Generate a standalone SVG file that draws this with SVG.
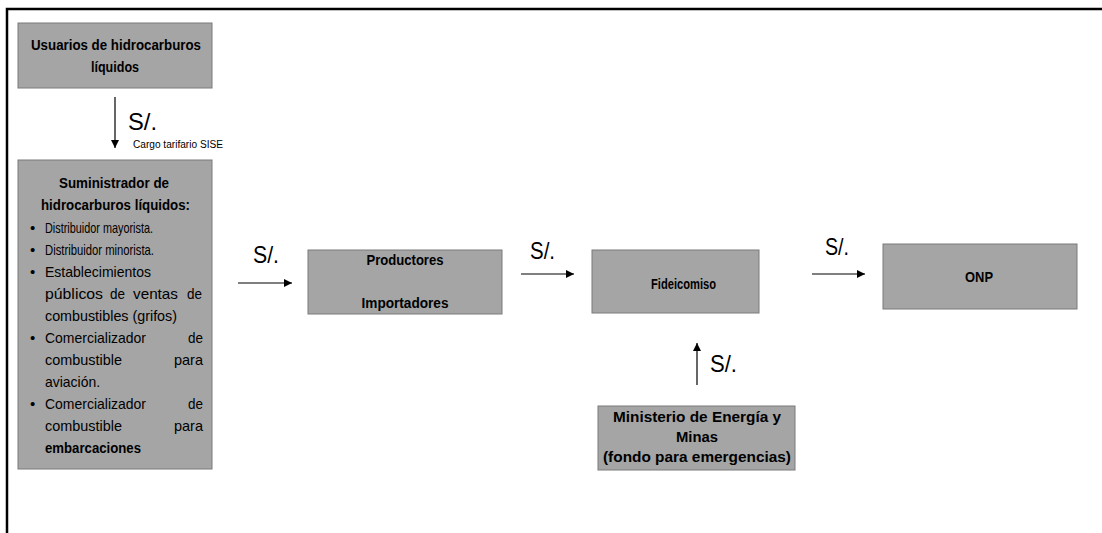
<svg xmlns="http://www.w3.org/2000/svg" width="1102" height="533" viewBox="0 0 1102 533">
<style>
.box{fill:#a5a5a5;stroke:#7a7a7a;stroke-width:1}
text{font-family:"Liberation Sans Narrow","Liberation Sans",Arial,sans-serif;fill:#000}
.b{font-weight:bold;font-size:15px}
.bs{font-weight:bold;font-size:14px}
.n{font-size:15px}
.s{font-size:24px}
.tiny{font-size:10px}
.ln{stroke:#000;stroke-width:1.2;fill:none}
</style>
<defs>
<marker id="ah" viewBox="0 0 10 10" refX="10" refY="5" markerWidth="8" markerHeight="8" markerUnits="userSpaceOnUse" orient="auto">
<path d="M0,0 L10,5 L0,10 z" fill="#000"/>
</marker>
</defs>
<rect width="1102" height="533" fill="#fff"/>
<path d="M7,533 V9 H1102" stroke="#000" stroke-width="2.5" fill="none"/>

<g id="usuarios">
<rect class="box" x="18" y="23" width="194" height="65"/>
<text class="b" x="116" y="50" text-anchor="middle" textLength="170" lengthAdjust="spacingAndGlyphs">Usuarios de hidrocarburos</text>
<text class="b" x="115" y="72" text-anchor="middle" textLength="48" lengthAdjust="spacingAndGlyphs">líquidos</text>
</g>

<g id="suministrador">
<rect class="box" x="18" y="160" width="194" height="309"/>
<text class="b" x="114" y="188" text-anchor="middle" textLength="110" lengthAdjust="spacingAndGlyphs">Suministrador de</text>
<text class="b" x="115.5" y="210" text-anchor="middle" textLength="149" lengthAdjust="spacingAndGlyphs">hidrocarburos líquidos:</text>
<g class="n">
<text x="30" y="233">•</text>
<text x="45" y="233" textLength="108" lengthAdjust="spacingAndGlyphs">Distribuidor mayorista.</text>
<text x="30" y="255">•</text>
<text x="45" y="255" textLength="109" lengthAdjust="spacingAndGlyphs">Distribuidor minorista.</text>
<text x="30" y="277">•</text>
<text x="45" y="277" textLength="106" lengthAdjust="spacingAndGlyphs">Establecimientos</text>
<text x="45" y="299" textLength="58" lengthAdjust="spacingAndGlyphs">públicos</text>
<text x="110" y="299" textLength="15" lengthAdjust="spacingAndGlyphs">de</text>
<text x="133" y="299" textLength="45" lengthAdjust="spacingAndGlyphs">ventas</text>
<text x="187" y="299" textLength="15" lengthAdjust="spacingAndGlyphs">de</text>
<text x="45" y="321" textLength="132" lengthAdjust="spacingAndGlyphs">combustibles (grifos)</text>
<text x="30" y="343">•</text>
<text x="45" y="343" textLength="101" lengthAdjust="spacingAndGlyphs">Comercializador</text>
<text x="188" y="343" textLength="15" lengthAdjust="spacingAndGlyphs">de</text>
<text x="45" y="365" textLength="77" lengthAdjust="spacingAndGlyphs">combustible</text>
<text x="174" y="365" textLength="29" lengthAdjust="spacingAndGlyphs">para</text>
<text x="45" y="387" textLength="55" lengthAdjust="spacingAndGlyphs">aviación.</text>
<text x="30" y="409">•</text>
<text x="45" y="409" textLength="101" lengthAdjust="spacingAndGlyphs">Comercializador</text>
<text x="188" y="409" textLength="15" lengthAdjust="spacingAndGlyphs">de</text>
<text x="45" y="431" textLength="77" lengthAdjust="spacingAndGlyphs">combustible</text>
<text x="174" y="431" textLength="29" lengthAdjust="spacingAndGlyphs">para</text>
</g>
<text class="b" x="45" y="453" textLength="96" lengthAdjust="spacingAndGlyphs">embarcaciones</text>
</g>

<g id="productores">
<rect class="box" x="308" y="250" width="194" height="64"/>
<text class="bs" x="405" y="265" text-anchor="middle" textLength="77" lengthAdjust="spacingAndGlyphs">Productores</text>
<text class="bs" x="405" y="308" text-anchor="middle" textLength="87" lengthAdjust="spacingAndGlyphs">Importadores</text>
</g>

<g id="fideicomiso">
<rect class="box" x="592" y="250" width="167" height="63"/>
<text class="bs" x="683.5" y="289" text-anchor="middle" textLength="65" lengthAdjust="spacingAndGlyphs">Fideicomiso</text>
</g>

<g id="onp">
<rect class="box" x="883" y="244" width="194" height="65"/>
<text class="bs" x="979" y="282" text-anchor="middle" textLength="28" lengthAdjust="spacingAndGlyphs">ONP</text>
</g>

<g id="ministerio">
<rect class="box" x="598" y="406" width="197" height="64"/>
<text class="b" x="697" y="422" text-anchor="middle" textLength="168" lengthAdjust="spacingAndGlyphs">Ministerio de Energía y</text>
<text class="b" x="697" y="442" text-anchor="middle" textLength="42" lengthAdjust="spacingAndGlyphs">Minas</text>
<text class="b" x="697" y="462" text-anchor="middle" textLength="188" lengthAdjust="spacingAndGlyphs">(fondo para emergencias)</text>
</g>

<g id="connectors">
<line class="ln" x1="115" y1="97" x2="115" y2="148" marker-end="url(#ah)"/>
<text class="s" x="128" y="130" textLength="29" lengthAdjust="spacingAndGlyphs">S/.</text>
<text class="tiny" x="133" y="148" textLength="90" lengthAdjust="spacingAndGlyphs">Cargo tarifario SISE</text>

<line class="ln" x1="238" y1="283" x2="292" y2="283" marker-end="url(#ah)"/>
<text class="s" x="253" y="263" textLength="26" lengthAdjust="spacingAndGlyphs">S/.</text>

<line class="ln" x1="521" y1="274" x2="574" y2="274" marker-end="url(#ah)"/>
<text class="s" x="530" y="259" textLength="25" lengthAdjust="spacingAndGlyphs">S/.</text>

<line class="ln" x1="812" y1="274" x2="865" y2="274" marker-end="url(#ah)"/>
<text class="s" x="825" y="255" textLength="24" lengthAdjust="spacingAndGlyphs">S/.</text>

<line class="ln" x1="697" y1="385" x2="697" y2="343" marker-end="url(#ah)"/>
<text class="s" x="710" y="372" textLength="27" lengthAdjust="spacingAndGlyphs">S/.</text>
</g>
</svg>
